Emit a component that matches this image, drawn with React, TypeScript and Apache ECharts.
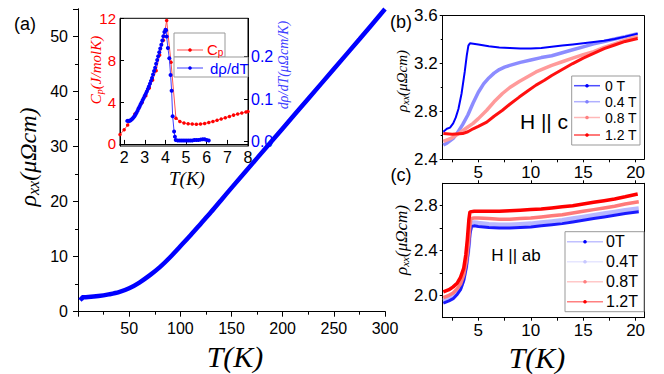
import React, { useEffect, useRef } from 'react';
import * as echarts from 'echarts';

// ---------- Panel (a): main rho_xx(T) ----------
const mainData: [number, number][] = [
  [2, 2.1], [3, 2.3], [4, 2.45], [4.5, 2.62], [10, 2.66], [20, 2.85], [30, 3.15], [40, 3.55],
  [50, 4.25], [60, 5.3], [70, 6.6], [80, 8.1], [90, 9.9], [100, 11.9], [110, 13.9], [120, 16.0],
  [130, 18.1], [140, 20.3], [150, 22.5], [175, 27.9], [200, 33.3], [225, 38.7], [250, 44.1],
  [275, 49.5], [300, 55],
];

// ---------- Inset: Cp and drho/dT ----------
const cpData: [number, number][] = [
  [1.8, 0.9], [2.0, 1.35], [2.17, 1.8], [2.35, 2.3], [2.52, 2.85], [2.7, 3.4], [2.87, 3.95],
  [3.05, 4.6], [3.22, 5.35], [3.38, 6.1], [3.55, 7.0], [3.72, 8.5], [3.9, 9.9], [4.06, 11.8],
  [4.27, 7.8], [4.51, 2.45], [4.7, 2.15], [4.9, 2.0], [5.1, 1.93], [5.3, 1.9], [5.5, 1.88],
  [5.7, 1.9], [5.9, 1.95], [6.1, 2.05], [6.3, 2.15], [6.5, 2.25], [6.7, 2.38], [6.9, 2.5],
  [7.1, 2.62], [7.3, 2.75], [7.5, 2.85], [7.7, 2.95], [7.9, 3.05], [8.0, 3.1],
];
const dRhoData: [number, number][] = [
  [2.15, 0.049], [2.2, 0.049], [2.25, 0.049], [2.3, 0.05], [2.35, 0.052], [2.4, 0.054],
  [2.45, 0.057], [2.5, 0.06], [2.55, 0.064], [2.6, 0.068], [2.65, 0.073], [2.7, 0.078],
  [2.75, 0.083], [2.8, 0.088], [2.85, 0.093], [2.9, 0.098], [2.95, 0.103], [3.0, 0.108],
  [3.05, 0.113], [3.1, 0.118], [3.15, 0.124], [3.2, 0.13], [3.25, 0.136], [3.3, 0.143],
  [3.35, 0.15], [3.4, 0.158], [3.45, 0.166], [3.5, 0.174], [3.55, 0.183], [3.6, 0.192],
  [3.65, 0.201], [3.7, 0.21], [3.75, 0.219], [3.8, 0.228], [3.85, 0.238], [3.9, 0.248],
  [3.95, 0.258], [4.0, 0.263], [4.03, 0.262], [4.06, 0.247], [4.12, 0.22], [4.19, 0.196],
  [4.25, 0.157], [4.3, 0.12], [4.35, 0.06], [4.42, 0.024], [4.46, 0.012], [4.5, 0.004],
  [4.6, 0.003], [4.7, 0.003], [4.8, 0.003], [4.9, 0.003], [5.0, 0.003], [5.1, 0.003],
  [5.2, 0.003], [5.3, 0.003], [5.4, 0.004], [5.5, 0.004], [5.6, 0.004], [5.7, 0.005],
  [5.8, 0.006], [5.9, 0.006], [6.0, 0.004], [6.1, 0.003],
];
const insetXTicks = [2, 3, 4, 5, 6, 7, 8];
const cpTicks = [0, 4, 8, 12];
const dRhoTicks = [0, 0.1, 0.2];

// ---------- Panel (b): H || c ----------
const bLabels = ['0 T', '0.4 T', '0.8 T', '1.2 T'];
const b0T: [number, number][] = [
  [1.66, 2.63], [2.0, 2.655], [2.3, 2.665], [2.6, 2.7], [2.85, 2.75], [3.1, 2.82], [3.4, 2.95],
  [3.7, 3.13], [3.9, 3.27], [4.05, 3.35], [4.2, 3.37], [5, 3.36], [6, 3.345], [7, 3.335],
  [8, 3.33], [9, 3.325], [10, 3.325], [11, 3.33], [12, 3.34], [13, 3.35], [14, 3.36],
  [15, 3.37], [16, 3.38], [17, 3.39], [18, 3.405], [19, 3.425], [20.2, 3.45],
];
const b04T: [number, number][] = [
  [1.66, 2.52], [2.0, 2.535], [2.6, 2.575], [3.0, 2.62], [3.5, 2.69], [4, 2.77], [4.5, 2.87],
  [5, 2.96], [5.5, 3.03], [6, 3.08], [6.5, 3.12], [7, 3.15], [7.5, 3.17], [8, 3.185],
  [9, 3.21], [10, 3.23], [11, 3.25], [12, 3.265], [13, 3.29], [14, 3.315], [15, 3.34],
  [16, 3.365], [17, 3.385], [18, 3.405], [19, 3.425], [20.2, 3.45],
];
const b08T: [number, number][] = [
  [1.66, 2.55], [2.5, 2.58], [3.2, 2.62], [4, 2.67], [4.5, 2.7], [5, 2.74], [5.8, 2.81],
  [6.5, 2.88], [7.3, 2.95], [8, 3.0], [8.9, 3.05], [9.7, 3.09], [10.5, 3.13], [11.3, 3.16],
  [12, 3.185], [13, 3.215], [14, 3.245], [15, 3.275], [16, 3.3], [17, 3.335], [18, 3.365],
  [19, 3.395], [20.2, 3.43],
];
const b12T: [number, number][] = [
  [1.66, 2.615], [2.5, 2.61], [3.5, 2.615], [4, 2.63], [4.5, 2.655], [5, 2.675], [5.8, 2.71],
  [6.5, 2.76], [7.3, 2.81], [8, 2.86], [8.9, 2.92], [9.7, 2.97], [10.5, 3.02], [11.3, 3.06],
  [12, 3.1], [13, 3.15], [14, 3.2], [15, 3.245], [16, 3.285], [17, 3.325], [18, 3.355],
  [19, 3.385], [20.2, 3.41],
];

// ---------- Panel (c): H || ab ----------
const cLabels = ['0T', '0.4T', '0.8T', '1.2T'];
const c0T: [number, number][] = [
  [1.66, 1.93], [2.2, 1.95], [2.6, 1.97], [3.0, 2.01], [3.3, 2.05], [3.6, 2.13], [3.85, 2.25],
  [4.05, 2.4], [4.2, 2.55], [4.35, 2.615], [4.6, 2.62], [5, 2.615], [6, 2.605], [7, 2.6],
  [8, 2.6], [9, 2.605], [10, 2.61], [11, 2.62], [12, 2.63], [13, 2.64], [14, 2.655],
  [15, 2.67], [16, 2.685], [17, 2.7], [18, 2.715], [19, 2.73], [20.3, 2.745],
];
const c04T: [number, number][] = [
  [1.66, 1.95], [2.2, 1.97], [2.6, 1.99], [3.0, 2.03], [3.3, 2.07], [3.6, 2.15], [3.85, 2.27],
  [4.05, 2.42], [4.2, 2.58], [4.35, 2.645], [4.6, 2.65], [5, 2.645], [6, 2.635], [7, 2.63],
  [8, 2.63], [9, 2.635], [10, 2.64], [11, 2.65], [12, 2.66], [13, 2.67], [14, 2.685],
  [15, 2.7], [16, 2.715], [17, 2.73], [18, 2.745], [19, 2.76], [20.3, 2.775],
];
const c08T: [number, number][] = [
  [1.66, 1.98], [2.2, 2.0], [2.6, 2.02], [3.0, 2.06], [3.3, 2.1], [3.6, 2.18], [3.85, 2.3],
  [4.05, 2.46], [4.2, 2.62], [4.3, 2.685], [4.6, 2.69], [5, 2.69], [6, 2.685], [7, 2.68],
  [8, 2.68], [9, 2.685], [10, 2.69], [11, 2.7], [12, 2.71], [13, 2.72], [14, 2.735],
  [15, 2.75], [16, 2.765], [17, 2.78], [18, 2.795], [19, 2.815], [20.3, 2.835],
];
const c12T: [number, number][] = [
  [1.66, 2.03], [2.2, 2.05], [2.6, 2.075], [3.0, 2.11], [3.3, 2.16], [3.6, 2.24], [3.8, 2.36],
  [3.95, 2.5], [4.1, 2.68], [4.2, 2.745], [4.6, 2.75], [5, 2.75], [6, 2.75], [7, 2.75],
  [8, 2.755], [9, 2.76], [10, 2.765], [11, 2.77], [12, 2.78], [13, 2.79], [14, 2.8],
  [15, 2.815], [16, 2.83], [17, 2.845], [18, 2.86], [19, 2.88], [20.2, 2.905],
];
const bcXLabels = [5, 10, 15, 20];
const bcXTicks = [2.5, 5, 7.5, 10, 12.5, 15, 17.5, 20];
const cYLabels = [2.0, 2.4, 2.8];
const cYTicks = [2.0, 2.2, 2.4, 2.6, 2.8];

const SANS = 'Liberation Sans, Arial, sans-serif';
const SERIF = 'Liberation Serif, Times New Roman, serif';
const AX = { lineStyle: { color: '#000', width: 1 } };

function rhoTitle(x: number, y: number, size: number) {
  return {
    type: 'text', x, y, rotation: Math.PI / 2, z: 10,
    style: {
      text: '{a|ρ}{s|xx}{a|(μΩcm)}',
      align: 'center', verticalAlign: 'middle',
      rich: {
        a: { fontSize: size, fontFamily: SERIF, fontStyle: 'italic', fill: '#000' },
        s: { fontSize: Math.round(size * 0.65), fontFamily: SERIF, fontStyle: 'italic', fill: '#000', padding: [Math.round(size * 0.45), 0, 0, 0] },
      },
    },
  };
}

function tkTitle(x: number, y: number, size: number) {
  return {
    type: 'text', x, y, z: 10,
    style: { text: 'T(K)', fontSize: size, fontFamily: SERIF, fontStyle: 'italic', fill: '#000', align: 'center', verticalAlign: 'middle' },
  };
}

function legendEntry(x1: number, x2: number, y: number, lineColor: string, dotColor: string, label: string, tx: number, fs: number, textColor = '#000', lw = 1.5) {
  return [
    { type: 'line', z: 11, shape: { x1, y1: y, x2, y2: y }, style: { stroke: lineColor, lineWidth: lw } },
    { type: 'circle', z: 12, shape: { cx: (x1 + x2) / 2, cy: y, r: 1.8 }, style: { fill: dotColor } },
    { type: 'text', z: 12, x: tx, y, style: { text: label, fontSize: fs, fontFamily: SANS, fill: textColor, align: 'left', verticalAlign: 'middle' } },
  ];
}

const bColors = ['#0000ff', '#8c8cff', '#ff9a9a', '#ff1010'];
const bLegLine = ['#4d4dff', '#b0b0ff', '#ffb8b8', '#ff4d4d'];
const bLegDot = ['#0000ff', '#8080ff', '#ff8080', '#ff0000'];
const cColors = ['#1a1aff', '#b8b8ff', '#ff7a7a', '#ff0000'];
const cLegLine = ['#c0c0ff', '#e6e6ff', '#ffc8c8', '#ff8080'];
const cLegDot = ['#0000ff', '#c8c8ff', '#ff8080', '#ff0000'];

const bYEntries = [85.7, 101.7, 117.5, 135];
const cYEntries = [241.7, 261.7, 281.7, 301.7];

const option: any = {
  animation: false,
  backgroundColor: '#fff',
  grid: [
    { left: 78, top: 9, width: 307, height: 302.7 },
    { left: 120, top: 18.3, width: 128, height: 127.7, show: true, backgroundColor: '#fff', borderColor: '#000', borderWidth: 1, z: 3 },
    { left: 442.7, top: 15.7, width: 201.3, height: 143.6 },
    { left: 442.7, top: 183.3, width: 201.3, height: 134.4 },
  ],
  xAxis: [
    {
      gridIndex: 0, type: 'value', position: 'bottom', min: 0, max: 300, interval: 50,
      axisLine: AX, splitLine: { show: false },
      axisTick: { show: true, inside: false, length: 5, lineStyle: { color: '#000' } },
      minorTick: { show: true, splitNumber: 2, length: 3, lineStyle: { color: '#000' } },
      axisLabel: { showMinLabel: false, fontSize: 16, fontFamily: SANS, color: '#000', margin: 9 },
    },
    {
      gridIndex: 0, type: 'value', position: 'top', min: 0, max: 300, interval: 50,
      axisLine: AX, splitLine: { show: false },
      axisTick: { show: true, inside: true, length: 4, lineStyle: { color: '#000' } },
      axisLabel: { show: false },
    },
    {
      gridIndex: 1, type: 'value', position: 'bottom', min: 1.8, max: 8, z: 4,
      axisLine: AX, splitLine: { show: false },
      axisTick: { show: true, inside: true, length: 4, customValues: insetXTicks, lineStyle: { color: '#000' } },
      axisLabel: { customValues: insetXTicks, fontSize: 16, fontFamily: SANS, color: '#000', margin: 3 },
    },
    {
      gridIndex: 2, type: 'value', position: 'bottom', min: 1.6, max: 20.8,
      axisLine: AX, splitLine: { show: false },
      axisTick: { show: true, inside: false, length: 3, customValues: bcXTicks, lineStyle: { color: '#000' } },
      axisLabel: { customValues: bcXLabels, fontSize: 17, fontFamily: SANS, color: '#000', margin: 5 },
    },
    {
      gridIndex: 2, type: 'value', position: 'top', min: 1.6, max: 20.8,
      axisLine: AX, splitLine: { show: false }, axisTick: { show: false }, axisLabel: { show: false },
    },
    {
      gridIndex: 3, type: 'value', position: 'bottom', min: 1.6, max: 20.8,
      axisLine: AX, splitLine: { show: false },
      axisTick: { show: true, inside: false, length: 3, customValues: bcXTicks, lineStyle: { color: '#000' } },
      axisLabel: { customValues: bcXLabels, fontSize: 17, fontFamily: SANS, color: '#000', margin: 4 },
    },
    {
      gridIndex: 3, type: 'value', position: 'top', min: 1.6, max: 20.8,
      axisLine: AX, splitLine: { show: false },
      axisTick: { show: true, inside: false, length: 3, customValues: bcXLabels, lineStyle: { color: '#000' } },
      axisLabel: { show: false },
    },
  ],
  yAxis: [
    {
      gridIndex: 0, type: 'value', position: 'left', min: 0, max: 55, interval: 10,
      axisLine: AX, splitLine: { show: false },
      axisTick: { show: true, inside: false, length: 5, lineStyle: { color: '#000' } },
      minorTick: { show: true, splitNumber: 2, length: 3, lineStyle: { color: '#000' } },
      axisLabel: { showMaxLabel: false, fontSize: 16, fontFamily: SANS, color: '#000', margin: 10 },
    },
    {
      gridIndex: 0, type: 'value', position: 'right', min: 0, max: 55, interval: 10,
      axisLine: AX, splitLine: { show: false },
      axisTick: { show: true, inside: true, length: 4, lineStyle: { color: '#000' } },
      axisLabel: { show: false },
    },
    {
      gridIndex: 1, type: 'value', position: 'left', min: -0.2, max: 12, z: 4,
      axisLine: AX, splitLine: { show: false },
      axisTick: { show: true, inside: true, length: 4, customValues: cpTicks, lineStyle: { color: '#000' } },
      axisLabel: { customValues: cpTicks, fontSize: 15, fontFamily: SANS, color: '#ff0000', margin: 4 },
    },
    {
      gridIndex: 1, type: 'value', position: 'right', min: -0.01, max: 0.29, z: 4,
      axisLine: AX, splitLine: { show: false },
      axisTick: { show: true, inside: true, length: 4, customValues: dRhoTicks, lineStyle: { color: '#000' } },
      axisLabel: { customValues: dRhoTicks, formatter: (v: number) => v.toFixed(1), fontSize: 16, fontFamily: SANS, color: '#0000ff', margin: 3 },
    },
    {
      gridIndex: 2, type: 'value', position: 'left', min: 2.4, max: 3.6, interval: 0.4,
      axisLine: AX, splitLine: { show: false },
      axisTick: { show: true, inside: false, length: 3, lineStyle: { color: '#000' } },
      minorTick: { show: true, splitNumber: 2, length: 2, lineStyle: { color: '#000' } },
      axisLabel: { formatter: (v: number) => v.toFixed(1), fontSize: 17, fontFamily: SANS, color: '#000', margin: 5 },
    },
    {
      gridIndex: 2, type: 'value', position: 'right', min: 2.4, max: 3.6,
      axisLine: AX, splitLine: { show: false }, axisTick: { show: false }, axisLabel: { show: false },
    },
    {
      gridIndex: 3, type: 'value', position: 'left', min: 1.8, max: 3.0,
      axisLine: AX, splitLine: { show: false },
      axisTick: { show: true, inside: false, length: 3, customValues: cYTicks, lineStyle: { color: '#000' } },
      axisLabel: { customValues: cYLabels, formatter: (v: number) => v.toFixed(1), fontSize: 17, fontFamily: SANS, color: '#000', margin: 5 },
    },
    {
      gridIndex: 3, type: 'value', position: 'right', min: 1.8, max: 3.0,
      axisLine: AX, splitLine: { show: false }, axisTick: { show: false }, axisLabel: { show: false },
    },
  ],
  series: [
    {
      type: 'line', xAxisIndex: 0, yAxisIndex: 0, data: mainData, showSymbol: false, symbol: 'none',
      smooth: 0.3, lineStyle: { color: '#0000ff', width: 4.5 }, z: 2,
    },
    {
      type: 'line', xAxisIndex: 2, yAxisIndex: 2, data: cpData, symbol: 'circle', symbolSize: 3.5,
      itemStyle: { color: '#ff0000' }, lineStyle: { color: '#ff5050', width: 1 }, z: 5,
    },
    {
      type: 'line', xAxisIndex: 2, yAxisIndex: 3, data: dRhoData, symbol: 'circle', symbolSize: 4,
      itemStyle: { color: '#0000ff' }, lineStyle: { color: '#4040ff', width: 1 }, z: 6,
    },
    // panel (b)
    { type: 'line', name: bLabels[1], xAxisIndex: 3, yAxisIndex: 4, data: b04T, symbol: 'none', lineStyle: { color: bColors[1], width: 3.5 }, z: 2 },
    { type: 'line', name: bLabels[2], xAxisIndex: 3, yAxisIndex: 4, data: b08T, symbol: 'none', lineStyle: { color: bColors[2], width: 3.5 }, z: 2 },
    { type: 'line', name: bLabels[3], xAxisIndex: 3, yAxisIndex: 4, data: b12T, symbol: 'none', lineStyle: { color: bColors[3], width: 3 }, z: 3 },
    { type: 'line', name: bLabels[0], xAxisIndex: 3, yAxisIndex: 4, data: b0T, symbol: 'none', lineStyle: { color: bColors[0], width: 2 }, z: 4 },
    // panel (c)
    { type: 'line', name: cLabels[1], xAxisIndex: 5, yAxisIndex: 6, data: c04T, symbol: 'none', lineStyle: { color: cColors[1], width: 4.5 }, z: 2 },
    { type: 'line', name: cLabels[0], xAxisIndex: 5, yAxisIndex: 6, data: c0T, symbol: 'none', lineStyle: { color: cColors[0], width: 3 }, z: 3 },
    { type: 'line', name: cLabels[2], xAxisIndex: 5, yAxisIndex: 6, data: c08T, symbol: 'none', lineStyle: { color: cColors[2], width: 3.5 }, z: 3 },
    { type: 'line', name: cLabels[3], xAxisIndex: 5, yAxisIndex: 6, data: c12T, symbol: 'none', lineStyle: { color: cColors[3], width: 3.5 }, z: 4 },
  ],
  graphic: [
    // panel labels
    { type: 'text', x: 25, y: 24, z: 10, style: { text: '(a)', fontSize: 18, fontFamily: SANS, fill: '#000', align: 'center', verticalAlign: 'middle' } },
    { type: 'text', x: 401, y: 22, z: 10, style: { text: '(b)', fontSize: 18, fontFamily: SANS, fill: '#000', align: 'center', verticalAlign: 'middle' } },
    { type: 'text', x: 401, y: 175, z: 10, style: { text: '(c)', fontSize: 18, fontFamily: SANS, fill: '#000', align: 'center', verticalAlign: 'middle' } },
    // axis titles
    rhoTitle(28, 157, 24),
    rhoTitle(402, 81, 15),
    rhoTitle(401, 240, 17),
    tkTitle(235, 356, 30),
    tkTitle(537, 357, 30),
    tkTitle(187, 178, 19),
    {
      type: 'text', x: 96, y: 70, rotation: Math.PI / 2, z: 10,
      style: {
        text: '{a|C}{s|p}{a|(J/molK)}', align: 'center', verticalAlign: 'middle',
        rich: {
          a: { fontSize: 15, fontFamily: SERIF, fontStyle: 'italic', fill: '#ff0000' },
          s: { fontSize: 10, fontFamily: SERIF, fontStyle: 'italic', fill: '#ff0000', padding: [6, 0, 0, 0] },
        },
      },
    },
    {
      type: 'text', x: 283, y: 65, rotation: Math.PI / 2, z: 10,
      style: { text: 'dρ/dT(μΩcm/K)', fontSize: 14, fontFamily: SERIF, fontStyle: 'italic', fill: '#4040ff', align: 'center', verticalAlign: 'middle' },
    },
    // inset legend
    { type: 'rect', z: 10, shape: { x: 174, y: 33, width: 51, height: 24 }, style: { fill: '#fff', stroke: '#999', lineWidth: 1 } },
    { type: 'rect', z: 10, shape: { x: 174, y: 57, width: 74, height: 20 }, style: { fill: '#fff', stroke: '#999', lineWidth: 1 } },
    { type: 'line', z: 11, shape: { x1: 177, y1: 50, x2: 203, y2: 50 }, style: { stroke: '#ff5050', lineWidth: 1 } },
    { type: 'circle', z: 12, shape: { cx: 190, cy: 50, r: 1.8 }, style: { fill: '#ff0000' } },
    {
      type: 'text', z: 12, x: 207, y: 49,
      style: {
        text: '{a|C}{s|p}', align: 'left', verticalAlign: 'middle',
        rich: {
          a: { fontSize: 15, fontFamily: SANS, fill: '#ff0000' },
          s: { fontSize: 10, fontFamily: SANS, fill: '#ff0000', padding: [7, 0, 0, 0] },
        },
      },
    },
    { type: 'line', z: 11, shape: { x1: 177, y1: 68, x2: 203, y2: 68 }, style: { stroke: '#4040ff', lineWidth: 1 } },
    { type: 'circle', z: 12, shape: { cx: 190, cy: 68, r: 1.8 }, style: { fill: '#0000ff' } },
    { type: 'text', z: 12, x: 210, y: 68, style: { text: 'dρ/dT', fontSize: 15, fontFamily: SANS, fill: '#0000ff', align: 'left', verticalAlign: 'middle' } },
    // panel (b) legend
    { type: 'rect', z: 10, shape: { x: 571.7, y: 76, width: 68.3, height: 69 }, style: { fill: '#fff', stroke: '#999', lineWidth: 1 } },
    ...bLabels.flatMap((l, i) => legendEntry(574, 600, bYEntries[i], bLegLine[i], bLegDot[i], l, 605, 14)),
    { type: 'text', z: 10, x: 544, y: 121, style: { text: 'H || c', fontSize: 21, fontFamily: SANS, fill: '#000', align: 'center', verticalAlign: 'middle' } },
    // panel (c) legend
    { type: 'rect', z: 10, shape: { x: 565, y: 231.7, width: 79, height: 80 }, style: { fill: '#fff', stroke: '#999', lineWidth: 1 } },
    ...cLabels.flatMap((l, i) => legendEntry(567, 603, cYEntries[i], cLegLine[i], cLegDot[i], l, 606, 16)),
    { type: 'text', z: 10, x: 516, y: 255, style: { text: 'H || ab', fontSize: 17, fontFamily: SANS, fill: '#000', align: 'center', verticalAlign: 'middle' } },
  ],
};

export default function App() {
  const ref = useRef<HTMLDivElement>(null);
  useEffect(() => {
    if (!ref.current) return;
    const chart = echarts.init(ref.current, null, { renderer: 'svg' });
    chart.setOption(option);
    return () => chart.dispose();
  }, []);
  return (
    <div
      ref={ref}
      style={{ position: 'absolute', left: 0, top: 0, width: 664, height: 374, background: '#fff' }}
    />
  );
}
